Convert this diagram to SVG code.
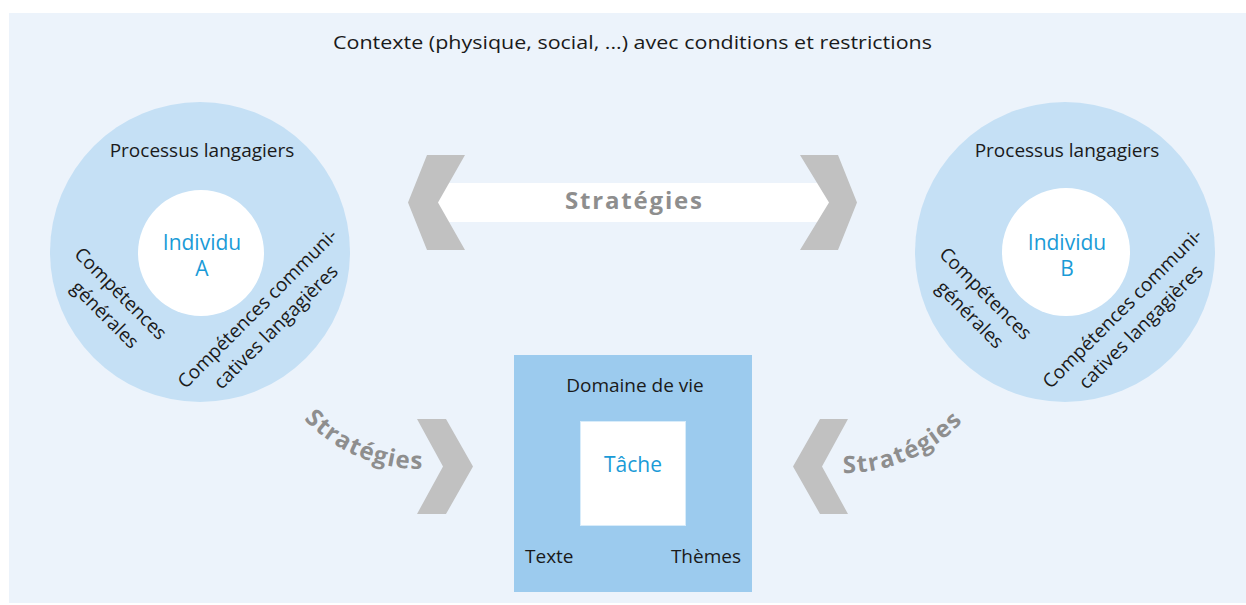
<svg xmlns="http://www.w3.org/2000/svg" width="1246" height="605" viewBox="0 0 1246 605">
<style>
.t{font-family:"Open Sans","Noto Sans","Liberation Sans",sans-serif;font-size:19px;fill:#1a1a1a}
.b{font-family:"Open Sans","Noto Sans","Liberation Sans",sans-serif;font-size:21px;fill:#1a9bd7}
.s{font-family:"Open Sans","Noto Sans","Liberation Sans",sans-serif;font-size:24px;font-weight:bold;fill:#8e8e8e}
.ring{fill:#c5e0f5}
.core{fill:#ffffff}
.chev{fill:#c1c1c1}
</style>
<defs>
<path id="arcL" d="M303.9,419.1 A160,160 0 0,0 421,469"/>
<path id="arcR" d="M843,473 A160,160 0 0,0 963,421"/>
</defs>
<rect x="9" y="13" width="1237" height="590" fill="#ecf3fb"/>
<text class="t" x="632.5" y="49" text-anchor="middle" font-size="21" textLength="599" lengthAdjust="spacingAndGlyphs">Contexte (physique, social, ...) avec conditions et restrictions</text>

<g id="individuA">
<circle class="ring" cx="200" cy="252" r="150"/>
<circle class="core" cx="201" cy="253" r="63"/>
<text class="t" x="202" y="157" text-anchor="middle">Processus langagiers</text>
<text class="b" x="202" y="250" text-anchor="middle">Individu</text>
<text class="b" x="202" y="276" text-anchor="middle">A</text>
<text class="t" text-anchor="middle" transform="translate(116,298) rotate(45)"><tspan x="0" y="0">Compétences</tspan><tspan x="4" y="26">générales</tspan></text>
<text class="t" text-anchor="middle" transform="translate(262,313) rotate(-45)"><tspan x="0" y="0">Compétences communi-</tspan><tspan x="0" y="26">catives langagières</tspan></text>
</g>

<g id="individuB">
<circle class="ring" cx="1065" cy="252" r="150"/>
<circle class="core" cx="1066" cy="252" r="64"/>
<text class="t" x="1067" y="157" text-anchor="middle">Processus langagiers</text>
<text class="b" x="1067" y="250" text-anchor="middle">Individu</text>
<text class="b" x="1067" y="276" text-anchor="middle">B</text>
<text class="t" text-anchor="middle" transform="translate(981,298) rotate(45)"><tspan x="0" y="0">Compétences</tspan><tspan x="4" y="26">générales</tspan></text>
<text class="t" text-anchor="middle" transform="translate(1127,313) rotate(-45)"><tspan x="0" y="0">Compétences communi-</tspan><tspan x="0" y="26">catives langagières</tspan></text>
</g>

<g id="domaine">
<rect x="514" y="355" width="238" height="237" fill="#9ccbee"/>
<rect x="580.5" y="421.5" width="105" height="104" fill="#ffffff" stroke="#d8ecfa" stroke-width="1"/>
<text class="t" x="635" y="392" text-anchor="middle">Domaine de vie</text>
<text class="b" x="633" y="472" text-anchor="middle" font-size="20">Tâche</text>
<text class="t" x="525" y="563">Texte</text>
<text class="t" x="741" y="563" text-anchor="end">Thèmes</text>
</g>

<g id="connectors">
<rect x="436" y="183" width="396" height="39" fill="#ffffff"/>
<polygon class="chev" points="427,155 465,155 438,202.5 465,250 427,250 408,202.5"/>
<polygon class="chev" points="800,155 838,155 857,202.5 838,250 800,250 829,202.5"/>
<text class="s" x="633.5" y="209" text-anchor="middle" textLength="137" lengthAdjust="spacing">Stratégies</text>
<polygon class="chev" points="417,419 446,419 473,466.5 446,514 417,514 443,466.5"/>
<polygon class="chev" points="820,419 848,419 822,466.5 848,514 820,514 793,466.5"/>
<text class="s"><textPath href="#arcL" textLength="132" lengthAdjust="spacing">Stratégies</textPath></text>
<text class="s"><textPath href="#arcR" textLength="134" lengthAdjust="spacing">Stratégies</textPath></text>
</g>
</svg>
